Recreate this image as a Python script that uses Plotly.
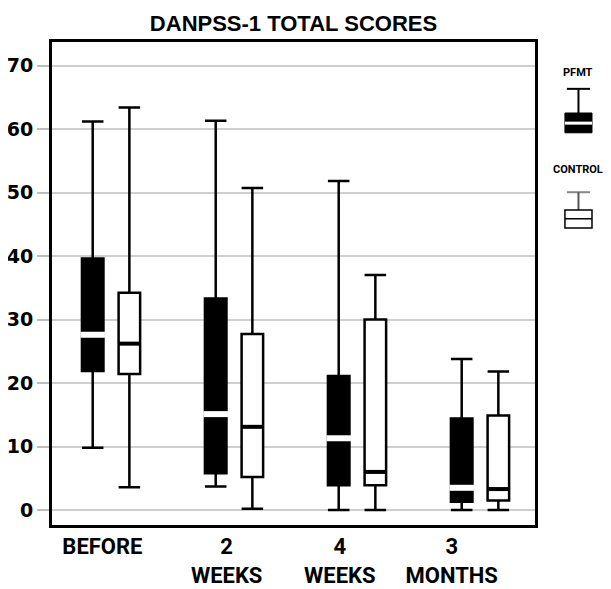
import plotly.graph_objects as go

# ---- data ----
groups = ["BEFORE", "2<br>WEEKS", "4<br>WEEKS", "3<br>MONTHS"]
label_pos = [-0.07, 0.94, 1.86, 2.77]
y_ticks = [0, 10, 20, 30, 40, 50, 60, 70]

pfmt_low = [9.8, 3.7, 0.0, 0.0]
pfmt_q1 = [21.9, 5.8, 3.9, 1.3]
pfmt_med = [27.6, 15.1, 11.3, 3.5]
pfmt_q3 = [39.6, 33.3, 21.1, 14.4]
pfmt_high = [61.2, 61.3, 51.8, 23.8]

ctrl_low = [3.6, 0.2, 0.0, 0.0]
ctrl_q1 = [21.4, 5.2, 3.9, 1.5]
ctrl_med = [26.2, 13.1, 6.0, 3.3]
ctrl_q3 = [34.2, 27.7, 30.0, 14.9]
ctrl_high = [63.4, 50.7, 37.0, 21.8]

# ---- layout constants ----
idx = list(range(len(groups)))
off = 0.149
bw = 0.175
x_pf = [i - off for i in idx]
x_ct = [i + off for i in idx]

# page body has an 8px default margin; size the figure so it fits the window
W, H = 603, 581

fig = go.Figure()

fig.add_trace(go.Box(
    x=x_pf, q1=pfmt_q1, median=pfmt_med, q3=pfmt_q3,
    lowerfence=pfmt_low, upperfence=pfmt_high,
    width=bw, whiskerwidth=1, boxpoints=False,
    fillcolor="black", line=dict(color="black", width=2.5),
    name="PFMT", showlegend=False, hoverinfo="skip"))

fig.add_trace(go.Box(
    x=x_ct, q1=ctrl_q1, median=ctrl_med, q3=ctrl_q3,
    lowerfence=ctrl_low, upperfence=ctrl_high,
    width=bw, whiskerwidth=1, boxpoints=False,
    fillcolor="white", line=dict(color="black", width=2.5),
    name="CONTROL", showlegend=False, hoverinfo="skip"))

# median emphasis lines
def seg(xs, ys, hw):
    sx, sy = [], []
    for x, y in zip(xs, ys):
        sx += [x - hw, x + hw, None]
        sy += [y, y, None]
    return sx, sy

sx, sy = seg(x_pf, pfmt_med, bw / 2 + 0.012)
fig.add_trace(go.Scatter(x=sx, y=sy, mode="lines",
                         line=dict(color="white", width=6),
                         showlegend=False, hoverinfo="skip"))
sx, sy = seg(x_ct, ctrl_med, bw / 2)
fig.add_trace(go.Scatter(x=sx, y=sy, mode="lines",
                         line=dict(color="black", width=4),
                         showlegend=False, hoverinfo="skip"))

# ---- custom legend ----
shapes = []
lx0, lx1, lxc = 1.062, 1.118, 1.090
shapes.append(dict(type="line", xref="paper", yref="paper",
                   x0=1.066, x1=1.114, y0=0.903, y1=0.903,
                   line=dict(color="black", width=2)))
shapes.append(dict(type="line", xref="paper", yref="paper",
                   x0=lxc, x1=lxc, y0=0.903, y1=0.853,
                   line=dict(color="black", width=2)))
shapes.append(dict(type="rect", xref="paper", yref="paper",
                   x0=lx0, x1=lx1, y0=0.812, y1=0.853,
                   fillcolor="black", line=dict(color="black", width=1)))
shapes.append(dict(type="line", xref="paper", yref="paper",
                   x0=lx0, x1=lx1, y0=0.832, y1=0.832,
                   line=dict(color="white", width=3)))
gc = "#555555"
shapes.append(dict(type="line", xref="paper", yref="paper",
                   x0=1.066, x1=1.114, y0=0.689, y1=0.689,
                   line=dict(color="#888888", width=2)))
shapes.append(dict(type="line", xref="paper", yref="paper",
                   x0=lxc, x1=lxc, y0=0.689, y1=0.652,
                   line=dict(color=gc, width=2)))
shapes.append(dict(type="rect", xref="paper", yref="paper",
                   x0=lx0, x1=lx1, y0=0.615, y1=0.652,
                   fillcolor="white", line=dict(color="black", width=1.5)))
shapes.append(dict(type="line", xref="paper", yref="paper",
                   x0=lx0, x1=lx1, y0=0.634, y1=0.634,
                   line=dict(color="black", width=1.5)))

leg_font = dict(family="Roboto, Liberation Sans, sans-serif", size=11,
                color="black", weight="bold")
annotations = [
    dict(text="PFMT", xref="paper", yref="paper", x=lxc, y=0.936,
         showarrow=False, xanchor="center", yanchor="middle", font=leg_font),
    dict(text="CONTROL", xref="paper", yref="paper", x=lxc, y=0.737,
         showarrow=False, xanchor="center", yanchor="middle", font=leg_font),
]

fig.update_layout(
    width=W, height=H,
    margin=dict(l=44, r=76, t=34, b=64),
    paper_bgcolor="white", plot_bgcolor="white",
    boxmode="overlay",
    title=dict(text="<b>DANPSS-1 TOTAL SCORES</b>", x=0.5, xref="paper",
               xanchor="center", y=1 - 15.5 / H, yref="container",
               yanchor="middle",
               font=dict(family="Liberation Sans, Arial, sans-serif",
                         size=22, color="black")),
    shapes=shapes,
    annotations=annotations,
)

fig.update_xaxes(
    range=[-0.48, 3.447], automargin=False,
    tickmode="array", tickvals=label_pos, ticktext=groups,
    showgrid=False, zeroline=False,
    showline=True, mirror=True, linecolor="black", linewidth=3,
    ticks="",
    tickfont=dict(family="Roboto, Liberation Sans, sans-serif",
                  size=22, color="black", weight="bold"),
)
fig.update_yaxes(
    range=[-2.36, 73.7], automargin=False,
    tickmode="array", tickvals=y_ticks,
    ticktext=[str(v) for v in y_ticks],
    showgrid=True, gridcolor="#cfcfcf", gridwidth=2,
    zeroline=False,
    showline=True, mirror=True, linecolor="black", linewidth=3,
    ticks="outside", ticklen=12, tickcolor="#bdbdbd", tickwidth=2,
    tickfont=dict(family="DejaVu Sans, sans-serif", size=19, color="black", weight="bold"),
)

fig.write_html("out.html")
